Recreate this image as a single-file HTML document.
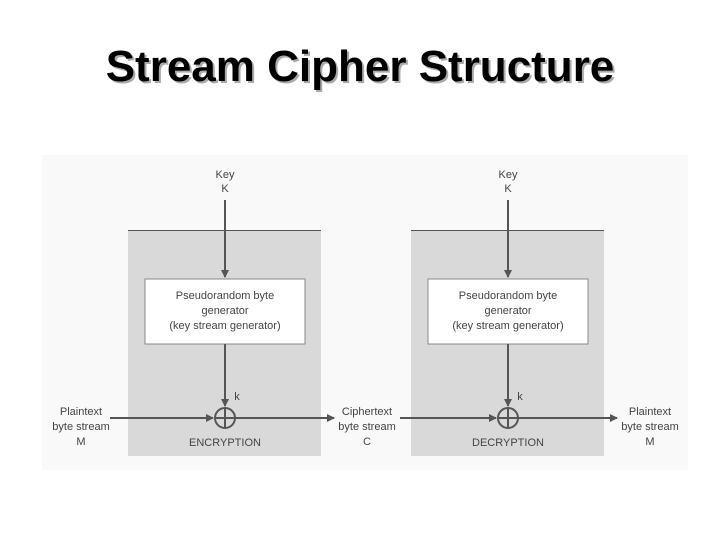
<!DOCTYPE html>
<html><head><style>
body{margin:0;width:720px;height:540px;background:#fff;overflow:hidden;position:relative;font-family:"Liberation Sans",sans-serif}
h1{position:absolute;top:42px;left:0;width:720px;text-align:center;margin:0;font-size:44px;font-weight:bold;color:#000;text-shadow:2px 2px 0 #aaa}
svg{position:absolute;left:0;top:0}
text{font-family:"Liberation Sans",sans-serif;font-size:11px;fill:#444;text-anchor:middle}
</style></head><body>
<h1>Stream Cipher Structure</h1>
<svg width="720" height="540">
<defs><marker id="a" markerWidth="8" markerHeight="8" refX="7" refY="4" orient="auto" markerUnits="userSpaceOnUse"><path d="M0,0L8,4L0,8z" fill="#555"/></marker></defs>
<rect x="42" y="155" width="646" height="315" fill="#f9f9f9"/>
<rect x="128" y="230" width="193" height="226" fill="#d9d9d9"/>
<line x1="128" y1="230.5" x2="321" y2="230.5" stroke="#555"/>
<rect x="411" y="230" width="193" height="226" fill="#d9d9d9"/>
<line x1="411" y1="230.5" x2="604" y2="230.5" stroke="#555"/>
<rect x="145" y="279" width="160" height="65" fill="#fff" stroke="#888"/>
<rect x="428" y="279" width="160" height="65" fill="#fff" stroke="#888"/>
<g stroke="#555" stroke-width="2" fill="none">
<line x1="225" y1="200" x2="225" y2="277" marker-end="url(#a)"/>
<line x1="225" y1="344" x2="225" y2="406" marker-end="url(#a)"/>
<line x1="110" y1="418" x2="213" y2="418" marker-end="url(#a)"/>
<line x1="235" y1="418" x2="334" y2="418" marker-end="url(#a)"/>
<circle cx="225" cy="418" r="10"/><line x1="215" y1="418" x2="235" y2="418"/><line x1="225" y1="408" x2="225" y2="428"/>
<line x1="508" y1="200" x2="508" y2="277" marker-end="url(#a)"/>
<line x1="508" y1="344" x2="508" y2="406" marker-end="url(#a)"/>
<line x1="400" y1="418" x2="496" y2="418" marker-end="url(#a)"/>
<line x1="518" y1="418" x2="617" y2="418" marker-end="url(#a)"/>
<circle cx="508" cy="418" r="10"/><line x1="498" y1="418" x2="518" y2="418"/><line x1="508" y1="408" x2="508" y2="428"/>
</g>
<text x="225" y="178">Key</text><text x="225" y="192">K</text>
<text x="508" y="178">Key</text><text x="508" y="192">K</text>
<text x="225" y="299">Pseudorandom byte</text><text x="225" y="314">generator</text><text x="225" y="329">(key stream generator)</text>
<text x="508" y="299">Pseudorandom byte</text><text x="508" y="314">generator</text><text x="508" y="329">(key stream generator)</text>
<text x="237" y="400">k</text><text x="520" y="400">k</text>
<text x="81" y="415">Plaintext</text><text x="81" y="430">byte stream</text><text x="81" y="445">M</text>
<text x="367" y="415">Ciphertext</text><text x="367" y="430">byte stream</text><text x="367" y="445">C</text>
<text x="650" y="415">Plaintext</text><text x="650" y="430">byte stream</text><text x="650" y="445">M</text>
<text x="225" y="446">ENCRYPTION</text><text x="508" y="446">DECRYPTION</text>
</svg>
</body></html>
